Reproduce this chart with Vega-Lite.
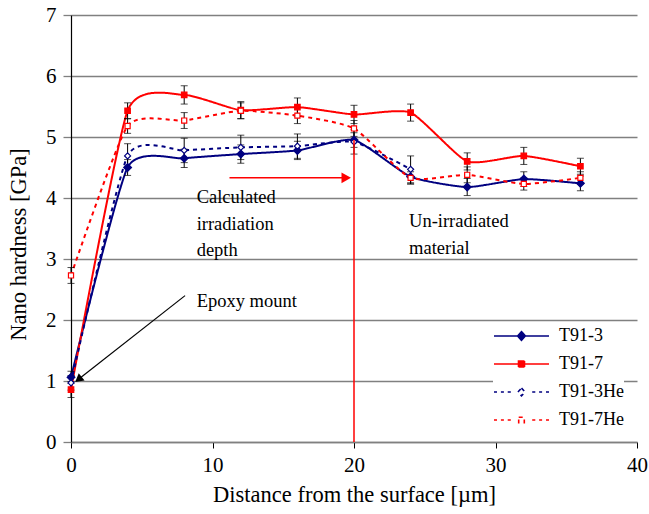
{
  "$schema": "https://vega.github.io/schema/vega-lite/v6.json",
  "width": 566,
  "height": 427,
  "autosize": {"type": "none"},
  "padding": {"left": 71, "top": 15, "right": 12, "bottom": 72},
  "background": "white",
  "config": {
    "view": {"stroke": null},
    "font": "Liberation Serif",
    "axis": {"labelFont": "Liberation Serif", "titleFont": "Liberation Serif", "labelColor": "black", "titleColor": "black", "titleFontWeight": "normal"},
    "legend": {"labelFont": "Liberation Serif"}
  },
  "datasets": {
    "hardness": [
      {"series": "T91-3", "x": 0, "y": 1.06, "lo": 0.96, "hi": 1.16},
      {"series": "T91-3", "x": 4, "y": 4.50, "lo": 4.37, "hi": 4.63},
      {"series": "T91-3", "x": 8, "y": 4.65, "lo": 4.50, "hi": 4.80},
      {"series": "T91-3", "x": 12, "y": 4.72, "lo": 4.57, "hi": 4.87},
      {"series": "T91-3", "x": 16, "y": 4.78, "lo": 4.63, "hi": 4.93},
      {"series": "T91-3", "x": 20, "y": 4.95, "lo": 4.83, "hi": 5.07},
      {"series": "T91-3", "x": 24, "y": 4.35, "lo": 4.23, "hi": 4.47},
      {"series": "T91-3", "x": 28, "y": 4.18, "lo": 4.04, "hi": 4.32},
      {"series": "T91-3", "x": 32, "y": 4.31, "lo": 4.19, "hi": 4.43},
      {"series": "T91-3", "x": 36, "y": 4.24, "lo": 4.12, "hi": 4.36},
      {"series": "T91-7", "x": 0, "y": 0.86, "lo": 0.73, "hi": 0.99},
      {"series": "T91-7", "x": 4, "y": 5.43, "lo": 5.30, "hi": 5.56},
      {"series": "T91-7", "x": 8, "y": 5.69, "lo": 5.54, "hi": 5.84},
      {"series": "T91-7", "x": 12, "y": 5.44, "lo": 5.30, "hi": 5.58},
      {"series": "T91-7", "x": 16, "y": 5.49, "lo": 5.34, "hi": 5.64},
      {"series": "T91-7", "x": 20, "y": 5.37, "lo": 5.22, "hi": 5.52},
      {"series": "T91-7", "x": 24, "y": 5.40, "lo": 5.26, "hi": 5.54},
      {"series": "T91-7", "x": 28, "y": 4.60, "lo": 4.46, "hi": 4.74},
      {"series": "T91-7", "x": 32, "y": 4.69, "lo": 4.55, "hi": 4.83},
      {"series": "T91-7", "x": 36, "y": 4.52, "lo": 4.39, "hi": 4.65},
      {"series": "T91-3He", "x": 0, "y": 0.97, "lo": 0.85, "hi": 1.09},
      {"series": "T91-3He", "x": 4, "y": 4.69, "lo": 4.49, "hi": 4.89},
      {"series": "T91-3He", "x": 8, "y": 4.78, "lo": 4.58, "hi": 4.98},
      {"series": "T91-3He", "x": 12, "y": 4.83, "lo": 4.63, "hi": 5.03},
      {"series": "T91-3He", "x": 16, "y": 4.85, "lo": 4.65, "hi": 5.05},
      {"series": "T91-3He", "x": 20, "y": 4.92, "lo": 4.72, "hi": 5.12},
      {"series": "T91-3He", "x": 24, "y": 4.47, "lo": 4.25, "hi": 4.69},
      {"series": "T91-7He", "x": 0, "y": 2.73, "lo": 2.60, "hi": 2.86},
      {"series": "T91-7He", "x": 4, "y": 5.18, "lo": 5.06, "hi": 5.30},
      {"series": "T91-7He", "x": 8, "y": 5.27, "lo": 5.14, "hi": 5.40},
      {"series": "T91-7He", "x": 12, "y": 5.43, "lo": 5.30, "hi": 5.56},
      {"series": "T91-7He", "x": 16, "y": 5.35, "lo": 5.22, "hi": 5.48},
      {"series": "T91-7He", "x": 20, "y": 5.14, "lo": 5.01, "hi": 5.27},
      {"series": "T91-7He", "x": 24, "y": 4.33, "lo": 4.23, "hi": 4.43},
      {"series": "T91-7He", "x": 28, "y": 4.38, "lo": 4.25, "hi": 4.51},
      {"series": "T91-7He", "x": 32, "y": 4.23, "lo": 4.13, "hi": 4.33},
      {"series": "T91-7He", "x": 36, "y": 4.33, "lo": 4.23, "hi": 4.43}
    ]
  },
  "layer": [
    {
      "data": {"name": "hardness"},
      "mark": {"type": "line", "interpolate": "cardinal", "tension": 0.45, "strokeWidth": 2},
      "encoding": {
        "x": {"field": "x", "type": "quantitative", "scale": {"domain": [0, 40], "nice": false},
          "axis": {"title": "Distance from the surface [\u00b5m]", "values": [0, 10, 20, 30, 40], "format": "d", "grid": false, "tickSize": 6, "tickColor": "black", "domainColor": "#808080", "domainWidth": 1.3, "labelFont": "Liberation Serif", "labelFontSize": 21, "labelPadding": 6, "titleFont": "Liberation Serif", "titleFontSize": 22.5, "titlePadding": 8, "labelFlush": false}},
        "y": {"field": "y", "type": "quantitative", "scale": {"domain": [0, 7], "nice": false},
          "axis": {"title": "Nano hardness [GPa]", "values": [0, 1, 2, 3, 4, 5, 6, 7], "format": "d", "grid": true, "gridColor": "#808080", "gridWidth": 1.3, "tickSize": 8, "tickColor": "#808080", "tickWidth": 1.3, "domainColor": "black", "domainWidth": 1.2, "labelFont": "Liberation Serif", "labelFontSize": 21, "labelPadding": 7, "titleFont": "Liberation Serif", "titleFontSize": 22.5, "titleAngle": 270, "titleAlign": "center", "titleBaseline": "middle", "titleX": -53, "titleY": 229, "labelFlush": false}},
        "color": {"field": "series", "type": "nominal",
          "scale": {"domain": ["T91-3", "T91-7", "T91-3He", "T91-7He"], "range": ["#000080", "#ff0000", "#000080", "#ff0000"]},
          "legend": {
            "title": null, "orient": "none", "legendX": 422, "legendY": 310,
            "fillColor": "white", "padding": 0, "labelFont": "Liberation Serif", "labelFontSize": 18, "labelColor": "black",
            "symbolSize": 400, "rowPadding": 8, "symbolOffset": 17.5, "labelOffset": 26.5, "symbolStrokeWidth": 1.6,
            "symbolType": "M-1,0L1,0",
            "encode": {
              "symbols": {"update": {
              "shape": {"signal": "datum.value === 'T91-3' ? 'M-2.75,0L2.75,0M0,-0.44L0.39,0L0,0.44L-0.39,0Z' : datum.value === 'T91-7' ? 'M-2.75,0L2.75,0M-0.3,-0.3L0.3,-0.3L0.3,0.3L-0.3,0.3Z' : datum.value === 'T91-3He' ? 'M-2.75,0L-2.45,0M-2.06,0L-1.76,0M-1.38,0L-1.07,0M1.07,0L1.38,0M1.76,0L2.06,0M2.45,0L2.75,0M0,-0.39L0.36,0L0,0.39L-0.36,0Z' : 'M-2.75,0L-2.45,0M-2.06,0L-1.76,0M-1.38,0L-1.07,0M1.07,0L1.38,0M1.76,0L2.06,0M2.45,0L2.75,0M-0.28,-0.28L0.28,-0.28L0.28,0.28L-0.28,0.28Z'"},
              "size": {"value": 400},
              "fill": {"signal": "datum.value === 'T91-3' ? '#000080' : datum.value === 'T91-7' ? '#ff0000' : 'white'"},
              "stroke": {"signal": "indexof(datum.value, '3') >= 0 ? '#000080' : '#ff0000'"},
              "strokeWidth": {"value": 1.6},
              "strokeDash": {"value": []},
              "opacity": {"value": 1}
            }}}
          }},
        "strokeDash": {"field": "series", "type": "nominal", "legend": null,
          "scale": {"domain": ["T91-3", "T91-7", "T91-3He", "T91-7He"], "range": [[1, 0], [1, 0], [4, 4], [4, 4]]}}
      }
    },
    {
      "data": {"name": "hardness"},
      "mark": {"type": "rule", "color": "black", "strokeWidth": 1},
      "encoding": {
        "x": {"field": "x", "type": "quantitative"},
        "y": {"field": "lo", "type": "quantitative"},
        "y2": {"field": "hi"}
      }
    },
    {
      "data": {"name": "hardness"},
      "transform": [{"fold": ["lo", "hi"], "as": ["end", "cap"]}],
      "mark": {"type": "tick", "orient": "horizontal", "color": "black", "size": 7, "thickness": 1},
      "encoding": {
        "x": {"field": "x", "type": "quantitative"},
        "y": {"field": "cap", "type": "quantitative"}
      }
    },
    {
      "data": {"name": "hardness"},
      "transform": [{"filter": "datum.series === 'T91-3'"}],
      "mark": {"type": "point", "shape": "diamond", "filled": true, "fill": "#000080", "stroke": "#000080", "strokeWidth": 1.2, "size": 60, "opacity": 1},
      "encoding": {"x": {"field": "x", "type": "quantitative"}, "y": {"field": "y", "type": "quantitative"}}
    },
    {
      "data": {"name": "hardness"},
      "transform": [{"filter": "datum.series === 'T91-7'"}],
      "mark": {"type": "point", "shape": "square", "filled": true, "fill": "#ff0000", "stroke": "#ff0000", "strokeWidth": 1.2, "size": 30, "opacity": 1},
      "encoding": {"x": {"field": "x", "type": "quantitative"}, "y": {"field": "y", "type": "quantitative"}}
    },
    {
      "data": {"name": "hardness"},
      "transform": [{"filter": "datum.series === 'T91-3He'"}],
      "mark": {"type": "point", "shape": "diamond", "filled": true, "fill": "white", "stroke": "#000080", "strokeWidth": 1.2, "size": 36, "opacity": 1},
      "encoding": {"x": {"field": "x", "type": "quantitative"}, "y": {"field": "y", "type": "quantitative"}}
    },
    {
      "data": {"name": "hardness"},
      "transform": [{"filter": "datum.series === 'T91-7He'"}],
      "mark": {"type": "point", "shape": "square", "filled": true, "fill": "white", "stroke": "#ff0000", "strokeWidth": 1.2, "size": 26, "opacity": 1},
      "encoding": {"x": {"field": "x", "type": "quantitative"}, "y": {"field": "y", "type": "quantitative"}}
    },
    {
      "data": {"values": [{}]},
      "mark": {"type": "rule", "color": "#ff0000", "strokeWidth": 1.5},
      "encoding": {"x": {"datum": 20}, "y": {"datum": 0}, "y2": {"datum": 4.95}}
    },
    {
      "data": {"values": [{}]},
      "mark": {"type": "rule", "color": "#ff0000", "strokeWidth": 1.5},
      "encoding": {"x": {"datum": 11.2}, "x2": {"datum": 19.45}, "y": {"datum": 4.33}}
    },
    {
      "data": {"values": [{}]},
      "mark": {"type": "point", "shape": "triangle-right", "filled": true, "color": "#ff0000", "size": 120, "opacity": 1},
      "encoding": {"x": {"datum": 19.45}, "y": {"datum": 4.33}}
    },
    {
      "data": {"values": [{}]},
      "mark": {"type": "rule", "color": "black", "strokeWidth": 1.2},
      "encoding": {"x": {"datum": 8.06}, "y": {"datum": 2.40}, "x2": {"datum": 0.6}, "y2": {"datum": 1.04}}
    },
    {
      "data": {"values": [{}]},
      "mark": {"type": "point", "shape": "triangle", "angle": 232, "filled": true, "color": "black", "size": 90, "opacity": 1},
      "encoding": {"x": {"datum": 0.6}, "y": {"datum": 1.04}}
    },
    {
      "data": {"values": [{}]},
      "mark": {"type": "text", "align": "left", "baseline": "alphabetic", "font": "Liberation Serif", "fontSize": 18.5, "lineHeight": 26.7, "color": "black", "text": ["Calculated", "irradiation", "depth"]},
      "encoding": {"x": {"datum": 8.88}, "y": {"datum": 3.92}}
    },
    {
      "data": {"values": [{}]},
      "mark": {"type": "text", "align": "left", "baseline": "alphabetic", "font": "Liberation Serif", "fontSize": 18.5, "lineHeight": 26.7, "color": "black", "text": ["Un-irradiated", "material"]},
      "encoding": {"x": {"datum": 23.89}, "y": {"datum": 3.52}}
    },
    {
      "data": {"values": [{}]},
      "mark": {"type": "text", "align": "left", "baseline": "alphabetic", "font": "Liberation Serif", "fontSize": 18.5, "color": "black", "text": "Epoxy mount"},
      "encoding": {"x": {"datum": 8.88}, "y": {"datum": 2.21}}
    }
  ]
}
